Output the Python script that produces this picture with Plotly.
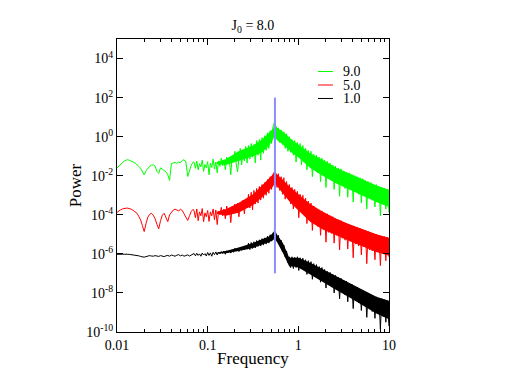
import plotly.graph_objects as go

# log10 of frequency, shared by all three spectra
log_freq = [
    -2.0, -1.98, -1.96, -1.94, -1.92, -1.9, -1.88, -1.86, -1.84, -1.82,
    -1.8, -1.78, -1.76, -1.74, -1.72, -1.7, -1.68, -1.66, -1.64, -1.62,
    -1.6, -1.58, -1.56, -1.54, -1.52, -1.5, -1.48, -1.46, -1.44, -1.42,
    -1.4, -1.38, -1.36, -1.34, -1.32, -1.3, -1.28, -1.26, -1.24, -1.22,
    -1.2, -1.18, -1.16,
    -1.15, -1.135, -1.12, -1.105, -1.09, -1.075, -1.06, -1.045, -1.03, -1.015,
    -1.0, -0.985, -0.97, -0.955, -0.94, -0.925, -0.91, -0.895, -0.88, -0.865,
    -0.85, -0.835, -0.82, -0.805, -0.79, -0.775, -0.76, -0.745, -0.73, -0.715,
    -0.7, -0.685, -0.67, -0.655, -0.64, -0.625, -0.61, -0.595, -0.58, -0.565,
    -0.55, -0.535, -0.52, -0.505, -0.49, -0.475, -0.46, -0.445, -0.43, -0.415,
    -0.4, -0.385, -0.37, -0.355, -0.34, -0.325, -0.31, -0.295, -0.28, -0.265,
    -0.25, -0.235, -0.22, -0.205, -0.19, -0.175, -0.16, -0.145, -0.13, -0.115,
    -0.1, -0.085, -0.07, -0.055, -0.04, -0.025, -0.01, 0.005, 0.02, 0.035,
    0.05, 0.065, 0.08, 0.095, 0.11, 0.125, 0.14, 0.155, 0.17, 0.185,
    0.2, 0.215, 0.23, 0.245, 0.26, 0.275, 0.29, 0.305, 0.32, 0.335,
    0.35, 0.365, 0.38, 0.395, 0.41, 0.425, 0.44, 0.455, 0.47, 0.485,
    0.5, 0.515, 0.53, 0.545, 0.56, 0.575, 0.59, 0.605, 0.62, 0.635,
    0.65, 0.665, 0.68, 0.695, 0.71, 0.725, 0.74, 0.755, 0.77, 0.785,
    0.8, 0.815, 0.83, 0.845, 0.86, 0.875, 0.89, 0.905, 0.92, 0.935,
    0.95, 0.965, 0.98, 1.0,
]

# log10 of power
log_power_90 = [
    -1.60, -1.50, -1.40, -1.32, -1.25, -1.20, -1.18, -1.22, -1.28, -1.30,
    -1.35, -1.42, -1.52, -1.62, -1.78, -1.95, -1.75, -1.60, -1.52, -1.46,
    -1.44, -1.50, -1.78, -1.88, -1.60, -1.66, -1.74, -1.80, -1.95, -2.24,
    -1.38, -1.34, -1.32, -1.36, -1.31, -1.33, -1.22, -1.18, -1.30, -2.04,
    -1.70, -1.45, -1.30,
    -1.30, -1.62, -1.25, -1.70, -1.38, -1.55, -1.20, -1.78, -1.42, -1.60,
    -1.28, -1.95, -1.35, -1.58, -1.15, -1.66, -1.30, -1.85, -1.24, -1.52,
    -1.10, -1.48, -1.18, -1.70, -1.05, -1.38, -1.22, -1.95, -1.00, -1.30,
    -0.75, -1.40, -1.80, -1.10, -0.60, -1.45, -0.75, -1.25, -0.50, -1.35,
    -0.45, -1.15, -0.35, -1.05, -0.40, -1.35, -0.20, -0.95, -0.15, -1.20,
    -0.05, -0.85, 0.05, -0.70, 0.20, -0.60, 0.30, -0.35, 0.50, 0.72,
    0.55, -0.15, 0.45, -0.30, 0.35, -0.40, 0.25, -0.60, 0.15, -0.75,
    0.00, -0.80, -0.15, -0.95, -0.20, -1.30, -0.30, -1.05, -0.35, -1.45,
    -0.45, -1.30, -0.60, -1.70, -0.70, -1.45, -0.75, -2.05, -0.90, -1.60,
    -0.95, -1.85, -1.05, -2.30, -1.10, -1.95, -1.20, -2.60, -1.25, -2.10,
    -1.35, -2.25, -1.45, -2.70, -1.50, -2.35, -1.60, -3.05, -1.65, -2.50,
    -1.75, -2.65, -1.85, -3.10, -1.85, -2.70, -1.95, -3.35, -2.00, -2.80,
    -2.05, -2.95, -2.10, -3.40, -2.15, -3.00, -2.25, -3.70, -2.30, -3.15,
    -2.35, -3.25, -2.45, -3.60, -2.45, -3.30, -2.55, -4.05, -2.60, -3.45,
    -2.65, -3.70, -2.68, -3.90,
]

log_power_50 = [
    -3.88, -3.80, -3.74, -3.70, -3.67, -3.66, -3.66, -3.68, -3.72, -3.78,
    -3.83, -3.92, -4.08, -4.26, -4.55, -4.86, -4.45, -4.12, -3.98, -3.92,
    -4.02, -4.20, -4.48, -4.72, -4.30, -4.02, -3.92, -4.10, -4.35, -4.00,
    -3.88, -3.76, -3.71, -3.76, -3.80, -3.72, -3.78, -3.95, -4.10, -4.29,
    -4.05, -3.82, -3.72,
    -3.80, -4.15, -3.70, -4.30, -3.85, -4.05, -3.68, -4.35, -3.90, -4.10,
    -3.78, -4.34, -3.85, -4.05, -3.70, -4.25, -3.75, -4.50, -3.82, -4.00,
    -3.62, -4.05, -3.70, -4.20, -3.55, -3.95, -3.65, -4.40, -3.58, -3.90,
    -3.45, -3.90, -3.40, -4.10, -3.35, -3.75, -3.25, -3.95, -3.20, -3.65,
    -2.95, -3.65, -2.85, -3.75, -2.75, -3.45, -2.65, -3.40, -2.55, -3.25,
    -2.45, -3.15, -2.35, -3.00, -2.20, -2.90, -2.05, -2.70, -1.95, -1.81,
    -1.85, -2.60, -1.90, -2.75, -2.05, -2.95, -2.10, -3.20, -2.30, -3.15,
    -2.45, -3.45, -2.60, -3.70, -2.70, -3.60, -2.80, -4.15, -2.95, -3.85,
    -3.00, -4.00, -3.15, -4.45, -3.30, -4.10, -3.40, -4.80, -3.55, -4.40,
    -3.65, -4.60, -3.75, -5.05, -3.80, -4.70, -3.90, -5.40, -3.95, -4.90,
    -4.05, -4.95, -4.10, -5.45, -4.20, -5.05, -4.25, -5.80, -4.30, -5.20,
    -4.40, -5.30, -4.45, -5.75, -4.50, -5.35, -4.55, -6.20, -4.60, -5.50,
    -4.65, -5.60, -4.70, -6.05, -4.75, -5.65, -4.80, -6.50, -4.85, -5.80,
    -4.90, -5.85, -4.95, -6.30, -5.00, -5.90, -5.05, -6.60, -5.10, -6.00,
    -5.12, -6.35, -5.15, -6.15,
]

log_power_10 = [
    -6.02, -6.01, -6.01, -6.02, -6.02, -6.01, -6.02, -6.03, -6.04, -6.05,
    -6.06, -6.08, -6.10, -6.13, -6.16, -6.17, -6.14, -6.10, -6.09, -6.11,
    -6.12, -6.09, -6.10, -6.13, -6.09, -6.11, -6.14, -6.10, -6.08, -6.12,
    -6.06, -6.09, -6.12, -6.07, -6.04, -6.10, -6.06, -6.12, -6.08, -6.05,
    -6.11, -6.07, -6.04,
    -5.98, -6.10, -5.97, -6.08, -6.00, -6.12, -5.96, -6.06, -5.99, -6.11,
    -5.93, -6.08, -5.95, -6.12, -5.92, -6.04, -5.90, -6.06, -5.91, -6.00,
    -5.88, -5.98, -5.85, -6.02, -5.84, -5.95, -5.82, -5.96, -5.80, -5.92,
    -5.72, -5.86, -5.70, -5.88, -5.68, -5.82, -5.65, -5.80, -5.62, -5.76,
    -5.45, -5.78, -5.42, -5.72, -5.38, -5.70, -5.32, -5.62, -5.28, -5.60,
    -5.22, -5.55, -5.18, -5.50, -5.10, -5.45, -5.02, -5.35, -4.92, -4.86,
    -4.90, -5.35, -5.05, -5.55, -5.30, -5.90, -5.55, -6.15, -5.85, -6.45,
    -6.15, -6.70, -6.15, -6.75, -6.18, -6.70, -6.15, -6.85, -6.20, -6.75,
    -6.22, -6.80, -6.30, -7.05, -6.35, -6.90, -6.40, -7.30, -6.50, -7.10,
    -6.55, -7.20, -6.65, -7.45, -6.70, -7.30, -6.80, -7.75, -6.90, -7.55,
    -6.95, -7.70, -7.05, -8.00, -7.10, -7.80, -7.20, -8.30, -7.25, -8.00,
    -7.35, -8.10, -7.40, -8.45, -7.50, -8.20, -7.55, -8.80, -7.65, -8.40,
    -7.70, -8.50, -7.80, -8.90, -7.85, -8.60, -7.95, -9.25, -8.00, -8.80,
    -8.10, -8.95, -8.15, -9.30, -8.20, -9.00, -8.30, -9.85, -8.30, -9.20,
    -8.35, -9.50, -8.40, -9.70,
]

# dense noise region: core band edges (log10 power) where the spectrum looks solid
band_log_freq = [-0.9, -0.8, -0.66, -0.5, -0.4, -0.33, -0.28, -0.258, -0.23, -0.17,
                 -0.1, -0.05, 0.0, 0.13, 0.27, 0.42, 0.57, 0.72, 0.86, 1.0]
band_hi_90 = [-1.30, -1.15, -0.75, -0.45, -0.15, 0.15, 0.40, 0.65, 0.45, 0.25,
              -0.05, -0.25, -0.40, -0.85, -1.20, -1.60, -1.90, -2.20, -2.50, -2.72]
band_lo_90 = [-1.40, -1.45, -1.25, -1.00, -0.80, -0.50, -0.15, 0.05, -0.20, -0.40,
              -0.70, -0.90, -1.05, -1.60, -2.00, -2.40, -2.75, -3.05, -3.35, -3.60]
band_hi_50 = [-3.85, -3.72, -3.40, -2.95, -2.50, -2.15, -1.95, -1.82, -1.95, -2.20,
              -2.55, -2.75, -2.95, -3.45, -3.85, -4.20, -4.50, -4.75, -5.00, -5.18]
band_lo_50 = [-3.95, -4.05, -3.90, -3.50, -3.10, -2.80, -2.55, -2.40, -2.55, -2.90,
              -3.30, -3.55, -3.80, -4.35, -4.75, -5.05, -5.35, -5.65, -5.90, -6.10]
band_hi_10 = [-5.94, -5.85, -5.68, -5.45, -5.25, -5.12, -4.95, -4.87, -5.05, -5.45,
              -6.20, -6.20, -6.20, -6.45, -6.80, -7.15, -7.50, -7.85, -8.20, -8.40]
band_lo_10 = [-5.98, -5.97, -5.85, -5.70, -5.52, -5.42, -5.30, -5.20, -5.45, -5.95,
              -6.65, -6.65, -6.70, -7.05, -7.45, -7.85, -8.25, -8.65, -9.05, -9.35]

series_names = ["9.0", "5.0", "1.0"]
series_colors = ["#00ff00", "#ff0000", "#000000"]

# marker line at the driving frequency
marker_freq = [0.552, 0.552]
marker_power = [1e2, 1e-7]

x_tickvals = [0.01, 0.1, 1, 10]
x_ticktext = ["0.01", "0.1", "1", "10"]
x_minor = [m * d for d in (0.01, 0.1, 1) for m in range(2, 10)]
y_tickvals = [1e-10, 1e-8, 1e-6, 1e-4, 1e-2, 1e0, 1e2, 1e4]
y_ticktext = ["10<sup>-10</sup>", "10<sup>-8</sup>", "10<sup>-6</sup>", "10<sup>-4</sup>",
              "10<sup>-2</sup>", "10<sup>0</sup>", "10<sup>2</sup>", "10<sup>4</sup>"]

assert len(log_freq) == len(log_power_90) == len(log_power_50) == len(log_power_10)

freq = [10 ** v for v in log_freq]
band_freq = [10 ** v for v in band_log_freq]

fig = go.Figure()
series = [(log_power_90, band_hi_90, band_lo_90),
          (log_power_50, band_hi_50, band_lo_50),
          (log_power_10, band_hi_10, band_lo_10)]
for name, color, (lp, hi, lo) in zip(series_names, series_colors, series):
    # solid core of the dense noise
    fig.add_trace(go.Scatter(x=band_freq + band_freq[::-1],
                             y=[10 ** v for v in hi] + [10 ** v for v in lo[::-1]],
                             mode='lines', fill='toself', fillcolor=color,
                             line=dict(width=0, color=color), showlegend=False, hoverinfo='skip'))
    fig.add_trace(go.Scatter(x=freq, y=[10 ** v for v in lp], mode='lines', name=name,
                             line=dict(color=color, width=1), showlegend=False))

fig.add_trace(go.Scatter(x=marker_freq, y=marker_power, mode='lines', showlegend=False,
                         line=dict(color='rgb(140,140,255)', width=2)))

font = "Liberation Serif"
axis_common = dict(type='log', showgrid=False, zeroline=False, showline=True, linecolor='black',
                   linewidth=1, mirror='allticks', ticks='inside', ticklen=6, tickcolor='black',
                   tickfont=dict(family=font, size=14, color='black'))

# legend drawn by hand so the rows sit as tightly as in the original
legend_y = [0.889, 0.843, 0.797]
for name, color, ly in zip(series_names, series_colors, legend_y):
    fig.add_shape(type='line', xref='paper', yref='paper', x0=0.739, x1=0.794, y0=ly, y1=ly,
                  line=dict(color=color, width=1))
    fig.add_annotation(text=name, xref='paper', yref='paper', x=0.824, y=ly,
                       xanchor='left', yanchor='middle', showarrow=False, height=13,
                       font=dict(family=font, size=14, color='black'))

# the page adds an 8px body margin, so the margins are trimmed to match the original frame
fig.update_layout(
    width=507, height=392, autosize=False,
    margin=dict(l=109, r=126, t=31, b=68),
    plot_bgcolor='white', paper_bgcolor='white',
    title=dict(text="J<sub>0</sub> = 8.0", x=0.5, xref='paper', y=0.957, yanchor='middle',
               font=dict(family=font, size=14, color='black')),
    xaxis=dict(range=[-2, 1], tickvals=x_tickvals, ticktext=x_ticktext,
               title=dict(text="Frequency", font=dict(family=font, size=17, color='black'), standoff=0),
               minor=dict(tickvals=x_minor, ticks='inside', ticklen=3, tickcolor='black'),
               **axis_common),
    yaxis=dict(range=[-10, 5], tickvals=y_tickvals, ticktext=y_ticktext,
               title=dict(text="Power", font=dict(family=font, size=17, color='black'), standoff=0),
               **axis_common),
    showlegend=False,
)

fig.write_html("out.html")
